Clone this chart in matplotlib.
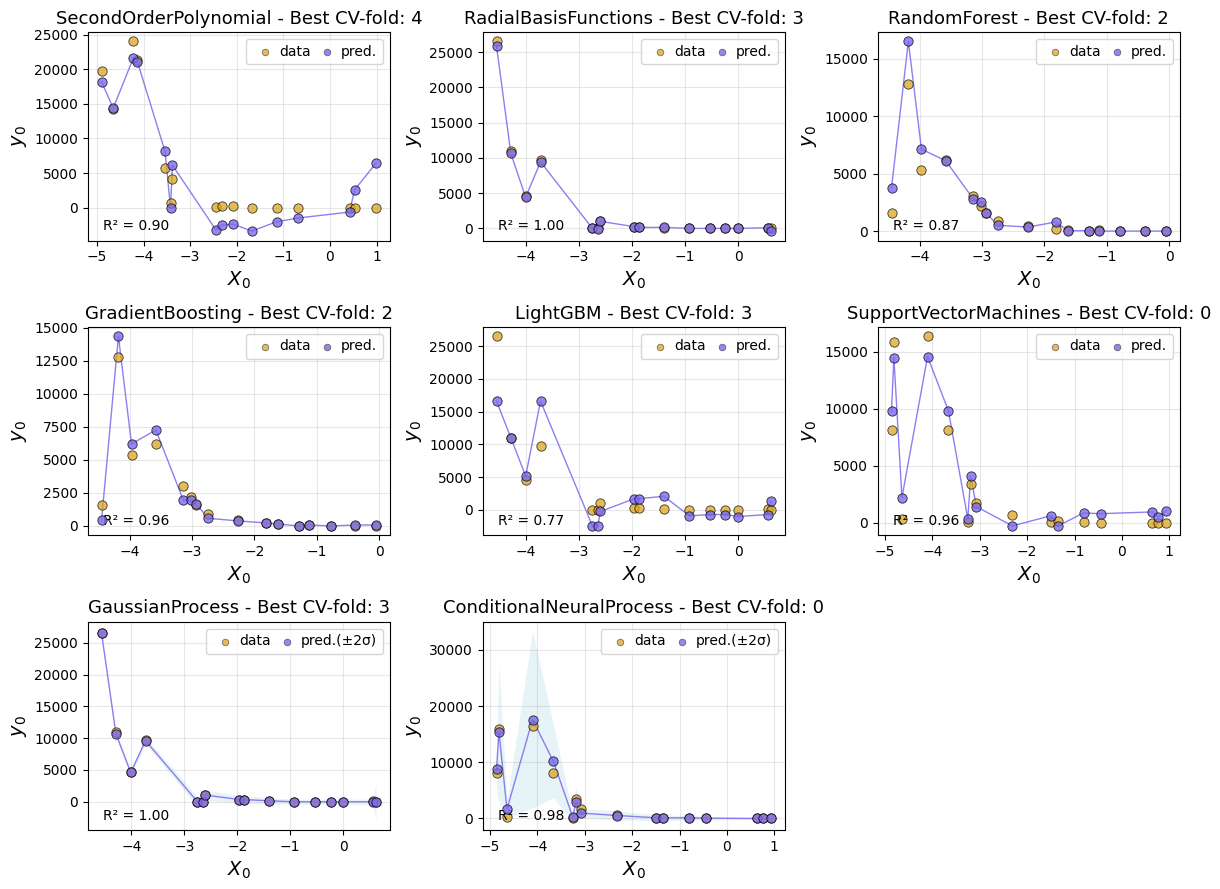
import numpy as np
import matplotlib
matplotlib.use('Agg')
import matplotlib.pyplot as plt

# --- valores ---

# fold 4 (SecondOrderPolynomial)
x_fold4 = [-4.90, -4.65, -4.22, -4.13, -3.54, -3.42, -3.38, -2.45, -2.32, -2.08, -1.68, -1.14, -0.69, 0.42, 0.53, 0.99]
y_fold4 = [19700, 14250, 24000, 21350, 5720, 670, 4180, 150, 240, 290, 0, 0, 0, 0, 0, 0]
pred_poly = [18170, 14380, 21590, 21060, 8170, 0, 6150, -3170, -2500, -2360, -3370, -2020, -1490, -625, 2600, 6440]

# fold 3 (RBF, LightGBM, GP)
x_fold3 = [-4.56, -4.29, -4.01, -3.73, -2.75, -2.65, -2.60, -1.96, -1.88, -1.40, -0.92, -0.54, -0.24, 0.00, 0.56, 0.62]
y_fold3 = [26500, 11000, 4600, 9700, 0, 0, 1000, 250, 250, 120, 0, 0, 0, 0, 50, 0]
pred_rbf = [25830, 10620, 4410, 9430, 0, -140, 1000, 240, 140, 140, 0, 0, 0, 0, 95, -380]
pred_lgbm = [16600, 11020, 5150, 16600, -2470, -2470, -260, 1700, 1700, 2060, -930, -720, -720, -1030, -720, 1290]
pred_gp = [26500, 10700, 4600, 9600, 0, 0, 1050, 350, 350, 150, 0, 0, 0, 0, 0, 0]
std_gp = [150, 200, 250, 250, 400, 400, 400, 300, 300, 250, 200, 200, 200, 200, 200, 1500]

# fold 2 (RandomForest, GradientBoosting)
x_fold2 = [-4.45, -4.18, -3.97, -3.58, -3.14, -3.01, -2.93, -2.74, -2.26, -1.82, -1.62, -1.29, -1.13, -0.78, -0.38, -0.05]
y_fold2 = [1550, 12800, 5330, 6180, 3050, 2200, 1570, 890, 430, 200, 120, 0, 50, 0, 20, 20]
pred_rf = [3760, 16500, 7130, 6110, 2800, 2530, 1540, 500, 350, 790, 30, 30, 0, 0, 0, 0]
pred_gb = [455, 14340, 6200, 7260, 1950, 1950, 1640, 580, 380, 230, 150, 0, 75, 0, 75, 75]

# fold 0 (SVM, CNP)
x_fold0 = [-4.86, -4.81, -4.64, -4.10, -3.66, -3.25, -3.19, -3.07, -2.31, -1.49, -1.35, -0.81, -0.45, 0.64, 0.76, 0.93]
y_fold0 = [8100, 15850, 300, 16370, 8170, 100, 3400, 1700, 660, 100, 120, 100, 0, 0, 0, 0]
pred_svm = [9780, 14500, 2200, 14590, 9840, 320, 4110, 1410, -290, 620, -290, 850, 790, 940, 500, 1030]
pred_cnp = [8720, 15420, 1660, 17610, 10140, 180, 2960, 950, 530, 120, 120, 120, 60, 0, 0, 0]
std_cnp = [1800, 6190, 800, 7850, 3230, 300, 1300, 400, 400, 250, 250, 200, 150, 100, 100, 100]

modelos = ['SecondOrderPolynomial', 'RadialBasisFunctions', 'RandomForest',
           'GradientBoosting', 'LightGBM', 'SupportVectorMachines',
           'GaussianProcess', 'ConditionalNeuralProcess']
folds = [4, 3, 2, 2, 3, 0, 3, 0]
r2 = [0.90, 1.00, 0.87, 0.96, 0.77, 0.96, 1.00, 0.98]


def graficar_panel(ax, nombre, fold, r2_val, x, y, pred, std=None):
    x = np.array(x)
    y = np.array(y)
    pred = np.array(pred)
    orden = np.argsort(x)

    if std is not None:
        std = np.array(std)
        ax.fill_between(x[orden], (pred - 2*std)[orden], (pred + 2*std)[orden],
                        color='lightblue', alpha=0.3, linewidth=0)
    ax.plot(x[orden], pred[orden], color='mediumslateblue', alpha=0.85, linewidth=1, zorder=2)
    ax.scatter(x, y, s=45, color='goldenrod', alpha=0.75, edgecolor='k', linewidth=0.6,
               label='data', zorder=3)
    etiqueta = 'pred.(±2σ)' if std is not None else 'pred.'
    ax.scatter(x, pred, s=45, color='mediumslateblue', alpha=0.8, edgecolor='k', linewidth=0.6,
               label=etiqueta, zorder=4)

    ax.set_title(f'{nombre} - Best CV-fold: {fold}', fontsize=13)
    ax.set_xlabel('$X_0$', fontsize=14)
    ax.set_ylabel('$y_0$', fontsize=14)
    ax.grid(alpha=0.3)
    leg = ax.legend(loc='upper right', ncol=2, columnspacing=0.1, handletextpad=0.05,
                    markerscale=0.7, fontsize=10)
    for h in leg.legend_handles:
        h.set_edgecolor((0.3, 0.3, 0.3, 0.5))
    ax.text(0.05, 0.05, f'R² = {r2_val:.2f}', transform=ax.transAxes, fontsize=10)


def main():
    fig, axes = plt.subplots(3, 3, figsize=(12.2, 8.89), dpi=100)
    axes = axes.ravel()

    paneles = [
        (x_fold4, y_fold4, pred_poly, None),
        (x_fold3, y_fold3, pred_rbf, None),
        (x_fold2, y_fold2, pred_rf, None),
        (x_fold2, y_fold2, pred_gb, None),
        (x_fold3, y_fold3, pred_lgbm, None),
        (x_fold0, y_fold0, pred_svm, None),
        (x_fold3, y_fold3, pred_gp, std_gp),
        (x_fold0, y_fold0, pred_cnp, std_cnp),
    ]

    for i, (x, y, pred, std) in enumerate(paneles):
        graficar_panel(axes[i], modelos[i], folds[i], r2[i], x, y, pred, std)

    axes[8].remove()
    fig.subplots_adjust(left=0.072, right=0.967, top=0.964, bottom=0.066,
                        wspace=0.308, hspace=0.414)
    fig.savefig('out.png', dpi=100)


main()
